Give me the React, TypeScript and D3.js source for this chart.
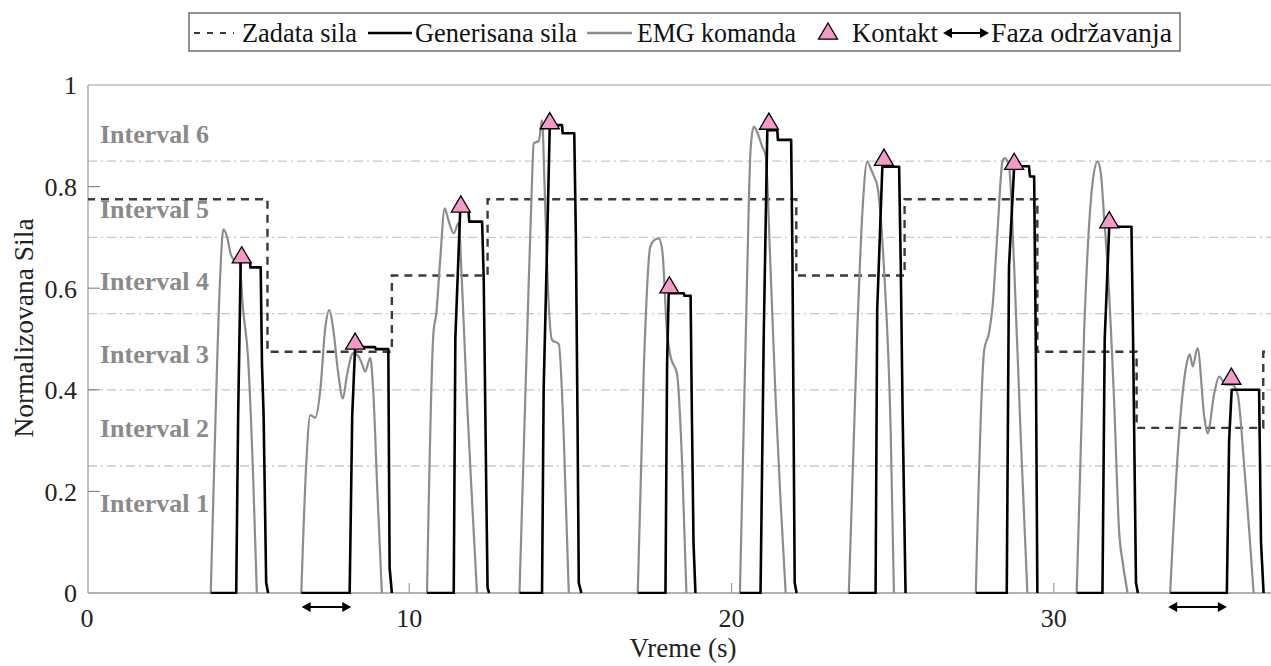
import React from 'react';
import * as d3 from 'd3';

const W = 1271;
const H = 666;

// axis ticks
const xTicks = [0, 10, 20, 30];
const yTicks = [0, 0.2, 0.4, 0.6, 0.8, 1];
const yTickLabels = ['0', '0.2', '0.4', '0.6', '0.8', '1'];

// interval bands
const intervalBounds = [0.25, 0.4, 0.55, 0.7, 0.85];
const intervalNames = ['Interval 1', 'Interval 2', 'Interval 3', 'Interval 4', 'Interval 5', 'Interval 6'];
const intervalLabelY = [0.159, 0.307, 0.453, 0.596, 0.738, 0.886];

// target force (step)
const targetTimes = [0, 5.6, 9.46, 12.43, 22.01, 25.37, 29.49, 32.57, 36.5, 36.9];
const targetValues = [0.775, 0.475, 0.625, 0.775, 0.625, 0.775, 0.475, 0.325, 0.475, 0.475];

// EMG command, per trial: [time, value]
const emgTrial1: [number, number][] = [[3.84, 0], [3.99, 0.35], [4.13, 0.62], [4.23, 0.716], [4.35, 0.7], [4.47, 0.665], [4.6, 0.655], [4.72, 0.655], [4.84, 0.56], [5.0, 0.46], [5.16, 0.22], [5.27, 0]];
const emgTrial2: [number, number][] = [[6.65, 0], [6.8, 0.25], [6.93, 0.35], [7.08, 0.345], [7.24, 0.4], [7.39, 0.52], [7.52, 0.557], [7.64, 0.52], [7.8, 0.43], [7.94, 0.383], [8.07, 0.43], [8.26, 0.472], [8.42, 0.466], [8.54, 0.45], [8.63, 0.436], [8.79, 0.463], [8.88, 0.4], [9.01, 0.2], [9.15, 0]];
const emgTrial3: [number, number][] = [[10.55, 0], [10.75, 0.512], [10.84, 0.551], [10.96, 0.656], [11.1, 0.757], [11.21, 0.735], [11.38, 0.708], [11.53, 0.728], [11.64, 0.603], [11.79, 0.38], [11.95, 0.18], [12.1, 0]];
const emgTrial4: [number, number][] = [[13.42, 0], [13.66, 0.512], [13.81, 0.813], [13.86, 0.885], [14.02, 0.89], [14.12, 0.931], [14.2, 0.8], [14.29, 0.62], [14.43, 0.498], [14.64, 0.49], [14.79, 0.315], [14.95, 0]];
const emgTrial5: [number, number][] = [[17.09, 0], [17.28, 0.446], [17.48, 0.682], [17.61, 0.695], [17.74, 0.698], [17.85, 0.675], [18.0, 0.512], [18.11, 0.465], [18.31, 0.431], [18.47, 0.25], [18.6, 0]];
const emgTrial6: [number, number][] = [[20.26, 0], [20.49, 0.642], [20.59, 0.872], [20.69, 0.918], [20.81, 0.905], [20.95, 0.879], [21.06, 0.86], [21.21, 0.64], [21.37, 0.38], [21.52, 0.183], [21.68, 0]];
const emgTrial7: [number, number][] = [[23.64, 0], [23.9, 0.512], [24.07, 0.76], [24.21, 0.849], [24.32, 0.835], [24.42, 0.82], [24.53, 0.8], [24.73, 0.64], [24.94, 0.315], [25.04, 0]];
const emgTrial8: [number, number][] = [[27.58, 0], [27.84, 0.478], [27.99, 0.512], [28.1, 0.564], [28.25, 0.708], [28.41, 0.85], [28.48, 0.856], [28.61, 0.84], [28.77, 0.642], [28.97, 0.314], [29.18, 0]];
const emgTrial9: [number, number][] = [[30.71, 0], [30.94, 0.512], [31.2, 0.806], [31.36, 0.849], [31.46, 0.826], [31.56, 0.741], [31.67, 0.642], [31.87, 0.38], [32.03, 0.118], [32.14, 0.06], [32.29, 0]];
const emgTrial10: [number, number][] = [[33.61, 0], [33.89, 0.315], [34.15, 0.459], [34.22, 0.47], [34.31, 0.446], [34.46, 0.482], [34.67, 0.347], [34.77, 0.314], [34.98, 0.393], [35.13, 0.426], [35.34, 0.41], [35.53, 0.41], [35.7, 0.393], [35.91, 0.25], [36.07, 0.118], [36.2, 0]];

// generated force, per trial
const forceTrial1: [number, number][] = [[3.84, 0], [4.63, 0], [4.69, 0.35], [4.77, 0.652], [5.06, 0.652], [5.07, 0.641], [5.39, 0.641], [5.43, 0.45], [5.48, 0.35], [5.56, 0.02], [5.62, 0]];
const forceTrial2: [number, number][] = [[6.65, 0], [8.15, 0], [8.23, 0.35], [8.32, 0.484], [8.5, 0.486], [8.6, 0.484], [8.94, 0.484], [8.96, 0.48], [9.35, 0.48], [9.39, 0.05], [9.46, 0]];
const forceTrial3: [number, number][] = [[10.55, 0], [11.38, 0], [11.43, 0.502], [11.58, 0.752], [11.84, 0.752], [11.86, 0.731], [12.26, 0.731], [12.31, 0.62], [12.39, 0.2], [12.43, 0.01], [12.48, 0]];
const forceTrial4: [number, number][] = [[13.42, 0], [14.12, 0], [14.17, 0.4], [14.28, 0.695], [14.36, 0.921], [14.74, 0.921], [14.76, 0.905], [15.12, 0.905], [15.17, 0.7], [15.22, 0.35], [15.26, 0.02], [15.34, 0]];
const forceTrial5: [number, number][] = [[17.09, 0], [17.95, 0], [18.0, 0.45], [18.05, 0.59], [18.52, 0.59], [18.54, 0.585], [18.73, 0.585], [18.77, 0.35], [18.82, 0.1], [18.88, 0]];
const forceTrial6: [number, number][] = [[20.26, 0], [20.9, 0], [21.0, 0.51], [21.11, 0.911], [21.42, 0.911], [21.44, 0.892], [21.85, 0.892], [21.89, 0.66], [21.96, 0.02], [22.02, 0]];
const forceTrial7: [number, number][] = [[23.64, 0], [24.47, 0], [24.52, 0.557], [24.68, 0.839], [25.2, 0.839], [25.25, 0.65], [25.31, 0.35], [25.4, 0]];
const forceTrial8: [number, number][] = [[27.58, 0], [28.54, 0], [28.61, 0.642], [28.77, 0.84], [29.23, 0.84], [29.26, 0.82], [29.39, 0.82], [29.44, 0.5], [29.49, 0]];
const forceTrial9: [number, number][] = [[30.71, 0], [31.51, 0], [31.58, 0.5], [31.72, 0.721], [32.41, 0.721], [32.46, 0.5], [32.55, 0.02], [32.61, 0]];
const forceTrial10: [number, number][] = [[33.61, 0], [35.37, 0], [35.44, 0.3], [35.52, 0.4], [36.37, 0.4], [36.43, 0.1], [36.51, 0]];

const emgTrials = [emgTrial1, emgTrial2, emgTrial3, emgTrial4, emgTrial5, emgTrial6, emgTrial7, emgTrial8, emgTrial9, emgTrial10];
const forceTrials = [forceTrial1, forceTrial2, forceTrial3, forceTrial4, forceTrial5, forceTrial6, forceTrial7, forceTrial8, forceTrial9, forceTrial10];

// contact markers
const contactTimes = [4.8, 8.32, 11.6, 14.36, 18.07, 21.16, 24.73, 28.77, 31.72, 35.51];
const contactValues = [0.662, 0.492, 0.762, 0.926, 0.603, 0.925, 0.854, 0.846, 0.731, 0.423];

// hold phases (arrows under axis)
const holdStarts = [6.66, 33.55];
const holdEnds = [8.2, 35.37];

// legend entries
const legendLabels = ['Zadata sila', 'Generisana sila', 'EMG komanda', 'Kontakt', 'Faza održavanja'];

const SERIF = '"Liberation Serif", "Times New Roman", serif';

function tri(cx: number, cy: number, s: number) {
  const h = s * 0.85;
  return `M${cx},${cy - h * 0.62}L${cx + s / 2},${cy + h * 0.38}L${cx - s / 2},${cy + h * 0.38}Z`;
}

function Arrow({ x1, x2, y }: { x1: number; x2: number; y: number }) {
  const a = 9;
  const b = 5;
  return (
    <g>
      <line x1={x1 + 3} x2={x2 - 3} y1={y} y2={y} stroke="#000" strokeWidth={2} />
      <path d={`M${x1},${y}L${x1 + a},${y - b}L${x1 + a},${y + b}Z`} fill="#000" />
      <path d={`M${x2},${y}L${x2 - a},${y - b}L${x2 - a},${y + b}Z`} fill="#000" />
    </g>
  );
}

export default function App() {
  const left = 88;
  const right = 1271;
  const top = 85;
  const bottom = 593;
  const x = d3.scaleLinear().domain([0, 36.74]).range([left - 1, right]);
  const y = d3.scaleLinear().domain([0, 1]).range([bottom, top]);
  const line = d3.line<[number, number]>().x((d) => x(d[0])).y((d) => y(d[1]));
  const smooth = d3
    .line<[number, number]>()
    .x((d) => x(d[0]))
    .y((d) => y(d[1]))
    .curve(d3.curveMonotoneX);
  const stepLine = d3
    .line<[number, number]>()
    .x((d) => x(d[0]))
    .y((d) => y(d[1]))
    .curve(d3.curveStepAfter);
  const targetPts: [number, number][] = targetTimes.map((t, i) => [t, targetValues[i]]);

  const legendY = 33;
  const legendBase = 42;
  const legText = (s: string, x0: number, len: number) => (
    <text x={x0} y={legendBase} fontSize={27} fill="#111" textLength={len} lengthAdjust="spacingAndGlyphs">
      {s}
    </text>
  );

  return (
    <svg width={W} height={H} style={{ position: 'absolute', left: 0, top: 0, background: '#fff' }} fontFamily={SERIF}>
      <defs>
        <clipPath id="plotclip">
          <rect x={left} y={top - 20} width={right - left} height={bottom - top + 21} />
        </clipPath>
      </defs>
      <rect x={0} y={0} width={W} height={H} fill="#fff" />

      {/* interval grid lines */}
      {intervalBounds.map((v) => (
        <line key={v} x1={left} x2={right} y1={y(v)} y2={y(v)} stroke="#c8c8c8" strokeWidth={1.3} strokeDasharray="9,4,2,4" />
      ))}
      {intervalNames.map((n, i) => (
        <text key={n} x={left + 12} y={y(intervalLabelY[i])} fontSize={26} fontWeight="bold" fill="#8a8a8a">
          {n}
        </text>
      ))}

      {/* axes frame */}
      <line x1={left} x2={right} y1={top} y2={top} stroke="#999" strokeWidth={1.2} />
      <line x1={left} x2={left} y1={top} y2={bottom} stroke="#999" strokeWidth={1.2} />
      <line x1={left} x2={right} y1={bottom} y2={bottom} stroke="#999" strokeWidth={1.4} />
      {yTicks.map((v, i) => (
        <g key={v}>
          {v > 0 && v < 1 && <line x1={left} x2={left + 12} y1={y(v)} y2={y(v)} stroke="#888" strokeWidth={1.2} />}
          <text x={left - 11} y={y(v)} dy="0.36em" textAnchor="end" fontSize={26} fill="#222">
            {yTickLabels[i]}
          </text>
        </g>
      ))}
      {xTicks.map((v) => (
        <g key={v}>
          {v > 0 && <line x1={x(v)} x2={x(v)} y1={bottom} y2={bottom - 10} stroke="#999" strokeWidth={1.2} />}
          <text x={x(v)} y={bottom + 34} textAnchor="middle" fontSize={26} fill="#222">
            {v}
          </text>
        </g>
      ))}
      <text x={683} y={657} textAnchor="middle" fontSize={27} fill="#222">
        Vreme (s)
      </text>
      <text transform={`translate(33,328) rotate(-90)`} textAnchor="middle" fontSize={27.5} fill="#222">
        Normalizovana Sila
      </text>

      <g clipPath="url(#plotclip)">
        {/* target force */}
        <path d={stepLine(targetPts) || ''} fill="none" stroke="#3a3a3a" strokeWidth={2.4} strokeDasharray="8,6" />
        {/* EMG */}
        {emgTrials.map((tr, i) => (
          <path key={'e' + i} d={smooth(tr) || ''} fill="none" stroke="#8c8c8c" strokeWidth={2.2} strokeLinejoin="round" />
        ))}
        {/* generated force */}
        {forceTrials.map((tr, i) => (
          <path key={'f' + i} d={line(tr) || ''} fill="none" stroke="#000" strokeWidth={2.6} strokeLinejoin="round" />
        ))}
        {/* contact markers */}
        {contactTimes.map((t, i) => (
          <path key={'c' + i} d={tri(x(t), y(contactValues[i]), 19)} fill="#f49ac8" stroke="#000" strokeWidth={1.3} />
        ))}
      </g>

      {/* hold phase arrows */}
      {holdStarts.map((s, i) => (
        <Arrow key={'a' + i} x1={x(s)} x2={x(holdEnds[i])} y={607} />
      ))}

      {/* legend */}
      <rect x={189} y={13} width={991} height={38} fill="#fff" stroke="#666" strokeWidth={1.4} />
      <line x1={194} x2={234} y1={legendY} y2={legendY} stroke="#3a3a3a" strokeWidth={2.2} strokeDasharray="6,7" />
      {legText(legendLabels[0], 242, 115)}
      <line x1={368} x2={412} y1={legendY} y2={legendY} stroke="#000" strokeWidth={2.6} />
      {legText(legendLabels[1], 415, 162)}
      <line x1={587} x2={632} y1={legendY} y2={legendY} stroke="#8c8c8c" strokeWidth={2.4} />
      {legText(legendLabels[2], 637, 159)}
      <path d={tri(828, legendY, 19)} fill="#f49ac8" stroke="#000" strokeWidth={1.3} />
      {legText(legendLabels[3], 852, 86)}
      <Arrow x1={943} x2={989} y={legendY} />
      {legText(legendLabels[4], 991, 181)}
    </svg>
  );
}
